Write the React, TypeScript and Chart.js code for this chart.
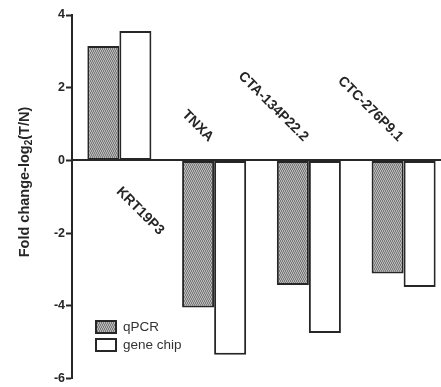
import React, { useEffect, useRef } from "react";
import { Chart, registerables } from "chart.js";

Chart.register(...registerables);

const categories = ["KRT19P3", "TNXA", "CTA-134P22.2", "CTC-276P9.1"];
const qpcr = [3.15, -4.05, -3.43, -3.11];
const geneChip = [3.56, -5.35, -4.75, -3.48];
const seriesNames = ["qPCR", "gene chip"];
const yTicks = [-6, -4, -2, 0, 2, 4];
const yTitleParts = ["Fold change-log", "2", "(T/N)"];

const FONT = "'Liberation Sans', Arial, sans-serif";
const INK = "#262626";

function makePattern(): CanvasPattern | string {
  const c = document.createElement("canvas");
  c.width = 4;
  c.height = 4;
  const g = c.getContext("2d");
  if (!g) return "#a0a0a0";
  g.fillStyle = "#b8b8b8";
  g.fillRect(0, 0, 4, 4);
  g.fillStyle = "#7a7a7a";
  for (let i = 0; i < 4; i++) {
    g.fillRect(i, (i * 2) % 4, 1, 1);
    g.fillRect((i + 2) % 4, (i * 2 + 1) % 4, 1, 1);
  }
  const ctx = document.createElement("canvas").getContext("2d");
  return ctx ? (ctx.createPattern(c, "repeat") as CanvasPattern) : "#a0a0a0";
}

const labelPlugin = {
  id: "catLabels",
  afterDatasetsDraw(chart: any) {
    const ctx = chart.ctx;
    const xs = chart.scales.x;
    const ys = chart.scales.y;
    const zeroY = ys.getPixelForValue(0);
    ctx.save();
    ctx.font = `bold 14px ${FONT}`;
    ctx.fillStyle = INK;
    ctx.textBaseline = "middle";
    categories.forEach((cat, i) => {
      const x = xs.getPixelForValue(i);
      const positive = Math.max(qpcr[i], geneChip[i]) > 0;
      ctx.save();
      if (positive) {
        ctx.translate(x - 1, zeroY + 29);
        ctx.rotate(Math.PI / 4);
        ctx.textAlign = "left";
      } else {
        ctx.translate(x - 3, zeroY - 21);
        ctx.rotate(Math.PI / 4);
        ctx.textAlign = "right";
      }
      ctx.fillText(cat, 0, 0);
      ctx.restore();
    });
    // y title with subscript
    ctx.save();
    ctx.translate(29, 182);
    ctx.rotate(-Math.PI / 2);
    ctx.textAlign = "left";
    ctx.textBaseline = "alphabetic";
    const big = `bold 14.5px ${FONT}`;
    const small = `bold 10px ${FONT}`;
    ctx.font = big;
    const w1 = ctx.measureText(yTitleParts[0]).width;
    const w3 = ctx.measureText(yTitleParts[2]).width;
    ctx.font = small;
    const w2 = ctx.measureText(yTitleParts[1]).width;
    let px = -(w1 + w2 + w3) / 2;
    ctx.font = big;
    ctx.fillText(yTitleParts[0], px, 0);
    px += w1;
    ctx.font = small;
    ctx.fillText(yTitleParts[1], px, 3);
    px += w2;
    ctx.font = big;
    ctx.fillText(yTitleParts[2], px, 0);
    ctx.restore();
    // legend
    chart.data.datasets.forEach((ds: any, i: number) => {
      const bx = 96;
      const by = 321 + i * 18;
      ctx.fillStyle = ds.backgroundColor;
      ctx.fillRect(bx, by, 20, 12);
      ctx.lineWidth = 2;
      ctx.strokeStyle = INK;
      ctx.strokeRect(bx, by, 20, 12);
      ctx.fillStyle = "#333";
      ctx.font = `13.5px ${FONT}`;
      ctx.textAlign = "left";
      ctx.textBaseline = "middle";
      ctx.fillText(ds.label, 123, by + 6.5);
    });
    ctx.restore();
  },
};

export default function App() {
  const ref = useRef<HTMLCanvasElement>(null);
  useEffect(() => {
    if (!ref.current) return;
    const pattern = makePattern();
    const chart = new Chart(ref.current, {
      type: "bar",
      data: {
        labels: categories,
        datasets: [
          {
            label: seriesNames[0],
            data: qpcr,
            backgroundColor: pattern as any,
            borderColor: INK,
            borderWidth: 2,
            borderSkipped: false,
          },
          {
            label: seriesNames[1],
            data: geneChip,
            backgroundColor: "#ffffff",
            borderColor: INK,
            borderWidth: 2,
            borderSkipped: false,
          },
        ],
      },
      options: {
        responsive: false,
        animation: false,
        events: [],
        layout: { padding: { top: 15, bottom: 5, left: 0, right: 1 } },
        datasets: { bar: { categoryPercentage: 0.676, barPercentage: 1 } },
        plugins: { legend: { display: false }, tooltip: { enabled: false } },
        scales: {
          x: {
            type: "category",
            position: { y: 0 } as any,
            offset: true,
            ticks: { display: false },
            grid: { display: false },
            border: { display: true, width: 2, color: INK },
          },
          y: {
            min: yTicks[0],
            max: yTicks[yTicks.length - 1],
            afterBuildTicks: (s: any) => {
              s.ticks = yTicks.map((v) => ({ value: v }));
            },
            afterFit: (s: any) => {
              s.width = 72;
            },
            ticks: {
              font: { family: FONT, size: 12.5, weight: "bold" },
              color: INK,
              padding: 1,
            },
            grid: {
              drawOnChartArea: false,
              drawTicks: true,
              tickLength: 6,
              tickWidth: 2,
              tickColor: INK,
            },
            border: { display: true, width: 2, color: INK },
          },
        },
      },
      plugins: [labelPlugin],
    });
    return () => chart.destroy();
  }, []);
  return (
    <div style={{ position: "fixed", left: 0, top: 0, width: 441, height: 387, overflow: "hidden", background: "#fff" }}>
      <canvas ref={ref} width={452} height={387} style={{ display: "block" }} />
    </div>
  );
}
